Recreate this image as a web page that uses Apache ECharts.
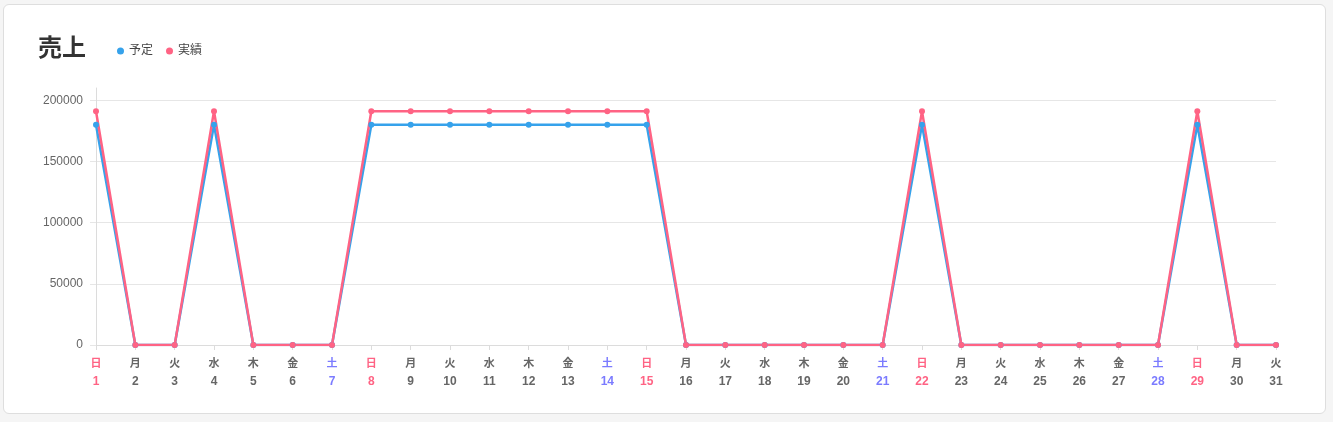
<!DOCTYPE html>
<html><head><meta charset="utf-8">
<script src="https://cdn.jsdelivr.net/npm/echarts@6/dist/echarts.min.js"></script>
<style>
html,body{margin:0;padding:0;background:#f5f5f5;width:1333px;height:422px;overflow:hidden;}
#card{position:absolute;left:3px;top:4px;width:1321px;height:408px;background:#fff;border:1px solid #dedede;border-radius:6px;}
#chart{position:absolute;left:0;top:0;width:1333px;height:422px;}
</style></head>
<body>
<div id="card"></div>
<div id="chart"></div>
<script>
const days = ['1','2','3','4','5','6','7','8','9','10','11','12','13','14','15','16','17','18','19','20','21','22','23','24','25','26','27','28','29','30','31'];
const weekdays = ['日','月','火','水','木','金','土','日','月','火','水','木','金','土','日','月','火','水','木','金','土','日','月','火','水','木','金','土','日','月','火'];
const plan = [180000,0,0,180000,0,0,0,180000,180000,180000,180000,180000,180000,180000,180000,0,0,0,0,0,0,180000,0,0,0,0,0,0,180000,0,0];
const actual = [191000,0,0,191000,0,0,0,191000,191000,191000,191000,191000,191000,191000,191000,0,0,0,0,0,0,191000,0,0,0,0,0,0,191000,0,0];
const yTicks = [0,50000,100000,150000,200000];

const font = 'Arial, "Liberation Sans", "Noto Sans CJK JP", sans-serif';
const chart = echarts.init(document.getElementById('chart'), null, {renderer:'canvas'});
const labels = days.map((d,i)=>weekdays[i]+'|'+d);
chart.setOption({
  animation:false,
  title:{text:'売上',left:33,top:32,textStyle:{fontSize:24,fontWeight:'bold',color:'#333',fontFamily:font}},
  legend:{left:112,top:40,icon:'circle',itemWidth:7,itemHeight:7,itemGap:13,
    textStyle:{fontSize:12,color:'#444',fontFamily:font},data:['予定','実績']},
  grid:{left:96,right:57,top:88,bottom:77,containLabel:false},
  xAxis:{type:'category',data:labels,boundaryGap:false,
    axisLine:{lineStyle:{color:'#dcdcdc'}},
    axisTick:{show:true,length:5,lineStyle:{color:'#dcdcdc'}},
    splitLine:{show:false},
    axisLabel:{interval:0,margin:10,fontFamily:font,
      formatter:function(v){const p=v.split('|');const c=p[0]==='日'?'s':(p[0]==='土'?'t':'n');return '{'+c+'w|'+p[0]+'}\n{'+c+'d|'+p[1]+'}';},
      rich:{
        nw:{color:'#666',fontSize:11,fontWeight:'bold',lineHeight:18,fontFamily:font},
        nd:{color:'#666',fontSize:12,fontWeight:'bold',lineHeight:18,fontFamily:font},
        sw:{color:'#ff6384',fontSize:11,fontWeight:'bold',lineHeight:18,fontFamily:font},
        sd:{color:'#ff6384',fontSize:12,fontWeight:'bold',lineHeight:18,fontFamily:font},
        tw:{color:'#7b7bff',fontSize:11,fontWeight:'bold',lineHeight:18,fontFamily:font},
        td:{color:'#7b7bff',fontSize:12,fontWeight:'bold',lineHeight:18,fontFamily:font}
      }}},
  yAxis:{type:'value',min:0,max:210000,interval:50000,
    axisLine:{show:true,lineStyle:{color:'#dcdcdc'}},
    axisTick:{show:true,length:6,lineStyle:{color:'#e6e6e6'}},
    splitLine:{show:true,lineStyle:{color:['#e6e6e6','#e6e6e6','#e6e6e6','#e6e6e6','#e6e6e6','rgba(0,0,0,0)']}},
    axisLabel:{showMaxLabel:false,margin:13,color:'#666',fontSize:12,fontFamily:font,
      formatter:function(v){return yTicks.indexOf(v)>=0?String(v):'';}}},
  series:[
    {name:'予定',type:'line',data:plan,color:'#36a2eb',symbol:'circle',symbolSize:6,
     lineStyle:{width:2.5,color:'#36a2eb'},itemStyle:{color:'#36a2eb'}},
    {name:'実績',type:'line',data:actual,color:'#ff6384',symbol:'circle',symbolSize:6,
     lineStyle:{width:2.5,color:'#ff6384'},itemStyle:{color:'#ff6384'}}
  ]
});
</script>
</body></html>
